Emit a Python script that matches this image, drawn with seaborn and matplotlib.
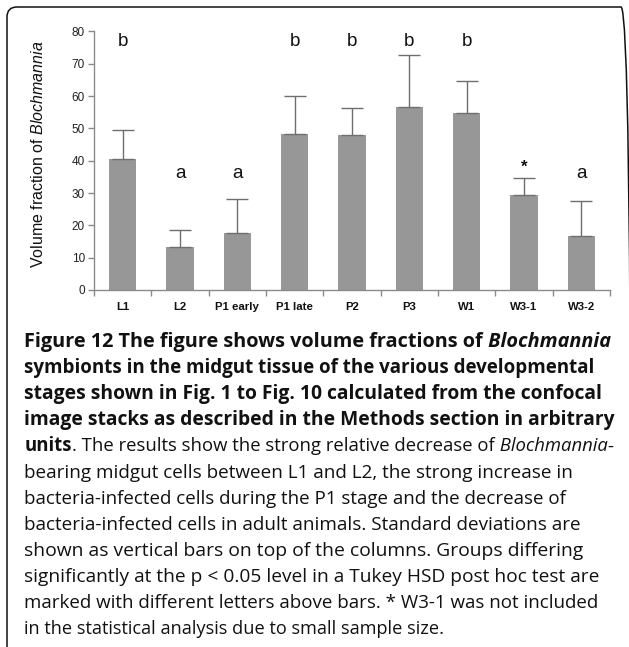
import matplotlib
matplotlib.use('Agg')
import matplotlib.pyplot as plt
import matplotlib.transforms as mtransforms
import seaborn as sns
import numpy as np
import pandas as pd
from matplotlib.patches import FancyBboxPatch

# ---------------- data ----------------
categories = ['L1', 'L2', 'P1 early', 'P1 late', 'P2', 'P3', 'W1', 'W3-1', 'W3-2']
means = [40.6, 13.4, 17.7, 48.4, 48.1, 56.6, 54.8, 29.4, 16.6]
sds = [9.0, 5.1, 10.6, 11.5, 8.3, 16.2, 9.9, 5.4, 11.0]
group_letters = ['b', 'a', 'a', 'b', 'b', 'b', 'b', '*', 'a']
letter_levels = {'b': 75.6, 'a': 34.6, '*': 36.6}
y_ticks = [0, 10, 20, 30, 40, 50, 60, 70, 80]
y_label = 'Volume fraction of $\\it{Blochmannia}$'

caption_lines = [
    [("Figure 12 The figure shows volume fractions of", 'bold', 'normal'),
     (" Blochmannia", 'bold', 'italic')],
    [("symbionts in the midgut tissue of the various developmental", 'bold', 'normal')],
    [("stages shown in Fig. 1 to Fig. 10 calculated from the confocal", 'bold', 'normal')],
    [("image stacks as described in the Methods section in arbitrary", 'bold', 'normal')],
    [("units", 'bold', 'normal'),
     (". The results show the strong relative decrease of", 'normal', 'normal'),
     (" Blochmannia", 'normal', 'italic'),
     ("-", 'normal', 'normal')],
    [("bearing midgut cells between L1 and L2, the strong increase in", 'normal', 'normal')],
    [("bacteria-infected cells during the P1 stage and the decrease of", 'normal', 'normal')],
    [("bacteria-infected cells in adult animals. Standard deviations are", 'normal', 'normal')],
    [("shown as vertical bars on top of the columns. Groups differing", 'normal', 'normal')],
    [("significantly at the p < 0.05 level in a Tukey HSD post hoc test are", 'normal', 'normal')],
    [("marked with different letters above bars. * W3-1 was not included", 'normal', 'normal')],
    [("in the statistical analysis due to small sample size.", 'normal', 'normal')],
]
# right edge (px) of each caption line in the reference layout
caption_right = [613, 595, 602, 613, 613, 572, 567, 582, 581, 600, 601, 445]

# ---------------- style ----------------
sns.set_theme(style='white')
plt.rcParams['font.family'] = ['Liberation Sans', 'DejaVu Sans']
plt.rcParams['mathtext.fontset'] = 'custom'
plt.rcParams['mathtext.rm'] = 'Liberation Sans'
plt.rcParams['mathtext.it'] = 'Liberation Sans:italic'

W, H = 629, 647
fig = plt.figure(figsize=(W / 100, H / 100), dpi=100)
fig.patch.set_facecolor('white')

# frame with rounded corners (right and bottom edges fall outside the canvas)
pix = mtransforms.IdentityTransform()
frame = FancyBboxPatch((7, H - 657), 631 - 7, 657 - 7,
                       boxstyle='round,pad=0,rounding_size=10',
                       transform=pix, fill=False,
                       edgecolor='#111111', linewidth=1.1, zorder=0)
fig.patches.append(frame)

ax_l, ax_r, ax_t, ax_b = 94, 610, 31.4, 290
ax = fig.add_axes([ax_l / W, 1 - ax_b / H, (ax_r - ax_l) / W, (ax_b - ax_t) / H])
ax.set_facecolor('none')

df = pd.DataFrame({'stage': categories, 'value': means})
sns.barplot(data=df, x='stage', y='value', color='#979797', saturation=1,
            width=0.48, errorbar=None, ax=ax, zorder=2, linewidth=0, edgecolor='none')
n = len(categories)
ax.errorbar(np.arange(n), means, yerr=[np.zeros(n), sds], fmt='none',
            ecolor='#6e6e6e', elinewidth=1.0, capsize=8, capthick=1.0, zorder=3)

for i, lab in enumerate(group_letters):
    ax.text(i, letter_levels[lab], lab, ha='center', va='baseline',
            fontsize=13.5 if lab != '*' else 12, color='#111111',
            fontweight='bold' if lab == '*' else 'normal')

ax.set_xlim(-0.5, n - 0.5)
ax.set_ylim(0, 80)
ax.set_yticks(y_ticks)
ax.set_yticklabels([str(v) for v in y_ticks])
ax.set_xlabel('')
ax.set_ylabel(y_label, fontsize=11.5, color='#111111')
ax.yaxis.set_label_coords((46 - ax_l) / (ax_r - ax_l), (ax_b - 154) / (ax_b - ax_t))

for s in ['top', 'right']:
    ax.spines[s].set_visible(False)
for s in ['left', 'bottom']:
    ax.spines[s].set_color('#8a8a8a')
    ax.spines[s].set_linewidth(1.0)

ax.tick_params(axis='y', which='major', direction='out', length=4, width=1,
               color='#8a8a8a', labelsize=8.5, labelcolor='#222222', pad=2.5, left=True)
ax.tick_params(axis='x', which='major', length=0, pad=8.5, labelsize=8.2, labelcolor='#111111')
for lbl in ax.get_xticklabels():
    lbl.set_fontweight('bold')
ax.set_xticks(np.arange(-0.5, n, 1.0), minor=True)
ax.tick_params(axis='x', which='minor', direction='out', length=4, width=1,
               color='#8a8a8a', bottom=True)

# ---------------- caption ----------------
cap_font = ['Open Sans', 'DejaVu Sans']
nominal = 13.6
x0 = 24.5
base0 = 347.0
step = 26.1
fig.canvas.draw()
renderer = fig.canvas.get_renderer()


def draw_line(segs, y, size):
    x = x0
    arts = []
    for txt, weight, style in segs:
        t = fig.text(x / W, 1 - y / H, txt, family=cap_font, fontsize=size,
                     fontweight=weight, fontstyle=style, color='#111111',
                     ha='left', va='baseline')
        x += t.get_window_extent(renderer).width
        arts.append(t)
    return arts, x


for i, segs in enumerate(caption_lines):
    y = base0 + i * step
    arts, xend = draw_line(segs, y, nominal)
    target = caption_right[i]
    if target is not None:
        size = nominal * (target - x0) / (xend - x0)
        for a in arts:
            a.remove()
        draw_line(segs, y, size)

fig.savefig('out.png', dpi=100, facecolor='white')
